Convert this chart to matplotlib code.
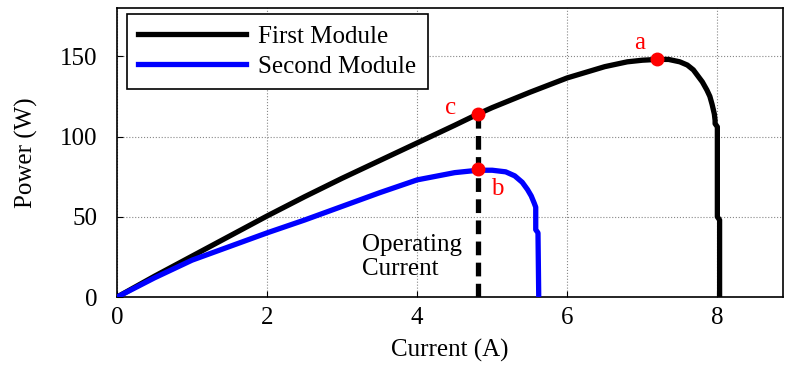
import matplotlib.pyplot as plt

plt.rcParams["font.family"] = ["Liberation Serif", "DejaVu Serif"]

# first module P-I curve
i_first = [0, 0.25, 0.5, 1.0, 1.5, 2.0, 2.5, 3.0, 3.5, 4.0, 4.5, 4.81, 5.0, 5.5, 6.0,
           6.5, 6.8, 7.0, 7.2, 7.35, 7.5, 7.6, 7.68, 7.8, 7.86, 7.9, 7.93, 7.96, 7.97, 7.97,
           8.0, 8.0, 8.03, 8.03]
p_first = [0, 6.5, 13, 25.5, 38, 50.5, 62.5, 74, 85, 96, 107, 114, 118, 127.5, 136.5,
           143.5, 146.5, 147.5, 148, 148, 146.5, 144.5, 141.5, 134, 129, 125, 120, 114, 110, 108,
           106, 50, 48, 0]

# second module P-I curve
i_second = [0, 0.5, 1.0, 1.5, 2.0, 2.5, 3.0, 3.5, 4.0, 4.5, 4.81, 5.0, 5.18, 5.3, 5.4,
            5.47, 5.52, 5.56, 5.58, 5.58, 5.61, 5.62]
p_second = [0, 12, 23, 31.5, 40, 48, 56.5, 65, 73, 77.5, 79, 79, 78, 75.5, 71.5,
            67, 63, 58.5, 56, 42, 40, 0]

operating_current = 4.81
pts_x = [7.2, 4.81, 4.81]
pts_y = [148, 79.6, 114]
pts_lbl = ["a", "b", "c"]

fig = plt.figure(figsize=(7.85, 3.65), dpi=100)
ax = fig.add_axes([0.149, 0.186, 0.848, 0.792])

ax.plot(i_first, p_first, color="black", lw=3.8, label="First Module", zorder=3)
ax.plot(i_second, p_second, color="#0000ff", lw=3.8, label="Second Module", zorder=3)
ax.plot([operating_current, operating_current], [0, pts_y[2]], color="black", lw=3.8,
        ls=(0, (2.6, 1.4)), zorder=2)
ax.plot(pts_x, pts_y, "o", color="red", ms=9, zorder=4)

offsets = [(-13, 12), (14, -14), (-20, 4)]
for x, y, t, (dx, dy) in zip(pts_x, pts_y, pts_lbl, offsets):
    ax.annotate(t, (x, y), xytext=(dx, dy), textcoords="offset points", color="red",
                fontsize=18, ha="center", va="center")

ax.text(3.27, 25, "Operating\nCurrent", fontsize=18, ha="left", va="center",
        linespacing=1.1)

ax.set_xlim(0, 8.87)
ax.set_ylim(0, 180)
ax.set_xticks([0, 2, 4, 6, 8])
ax.set_yticks([0, 50, 100, 150])
ax.tick_params(direction="in", labelsize=18, length=4)
ax.tick_params(axis="x", pad=7)
ax.tick_params(axis="y", pad=14)
ax.set_xlabel("Current (A)", fontsize=18, labelpad=7)
ax.set_ylabel("Power (W)", fontsize=18, labelpad=16)
ax.grid(True, color="#888888", ls=":", lw=0.8)
for s in ax.spines.values():
    s.set_linewidth(1.2)

leg = ax.legend(loc="upper left", bbox_to_anchor=(0.015, 0.98), borderaxespad=0,
                fontsize=18, fancybox=False, edgecolor="black", framealpha=1,
                handlelength=4.3, handletextpad=0.5, labelspacing=0.3,
                borderpad=0.45)
leg.get_frame().set_linewidth(1.2)

fig.savefig("out.png", dpi=100)
